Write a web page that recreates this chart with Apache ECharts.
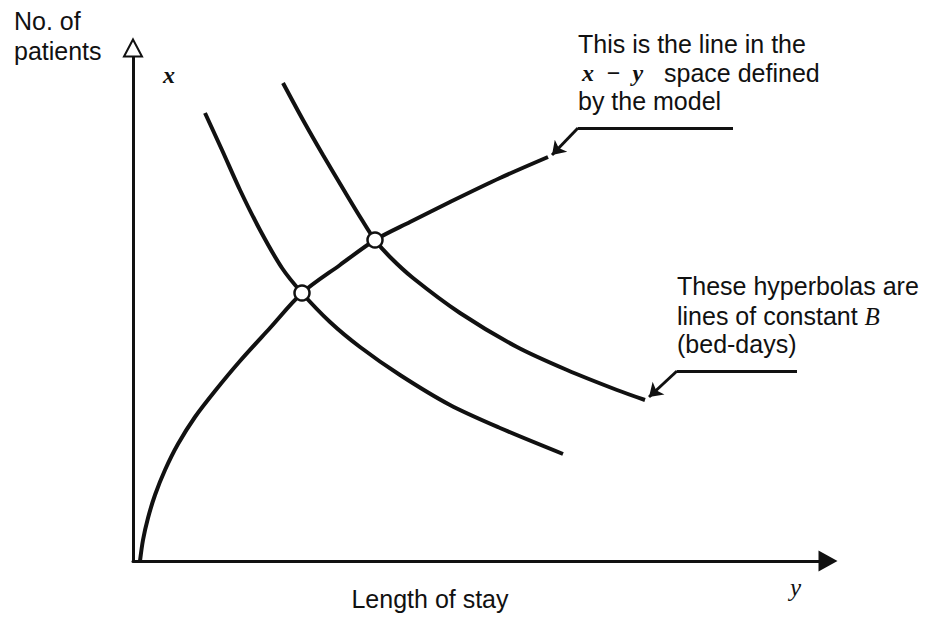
<!DOCTYPE html>
<html>
<head>
<meta charset="utf-8">
<script src="https://cdn.jsdelivr.net/npm/echarts@6/dist/echarts.min.js"></script>
</head>
<body style="margin:0; background:#fff">
<div id="container" style="width:928px; height:620px"></div>
<script>
// points, axis units = pixels from the corner of the axes
var modelLine = [[7,0],[10,21],[15,43],[22,66],[32,91],[45,117],[62,144],[82,170],[107,200],[137,233],[169,268],[207,296],[242,321],[277,339],[317,359],[367,383],[415,404]];
var hyperbolaLow = [[72,448],[89,411],[107,371],[127,331],[149,293],[169,268],[197,239],[227,214],[267,186],[317,156],[367,133],[430,107]];
var hyperbolaHigh = [[150,478],[170,441],[190,406],[212,369],[229,341],[242,321],[257,304],[280,283],[327,248],[384,214],[434,191],[484,171],[512,161]];
var crossings = [[169,268],[242,321]];
// leader lines of the two notes: bar end, bend, arrow tip
var leaderModel = [[600,433],[445,433],[419,406]];
var leaderHyper = [[664,190],[544,190],[516,164]];
var xMax = 695, yMax = 513;

var dom = document.getElementById('container');
var myChart = echarts.init(dom, null, {renderer: 'svg'});

var sans = '25px "Liberation Sans"';
var serifIt = 'italic bold 24px "Liberation Serif"';
var serifThin = 'italic 25px "Liberation Serif"';

function curve(data) {
    return {
        type: 'line',
        data: data,
        smooth: 0.3,
        showSymbol: false,
        lineStyle: {color: '#111', width: 4},
        z: 3
    };
}

var option = {
    animation: false,
    backgroundColor: '#fff',
    grid: {left: 133, right: 100, top: 48, bottom: 59, outerBoundsMode: 'none'},
    xAxis: {
        type: 'value', min: 0, max: xMax,
        axisLine: {lineStyle: {color: '#111', width: 3}, symbol: ['none', 'triangle'], symbolSize: [21, 19]},
        axisTick: {show: false}, axisLabel: {show: false}, splitLine: {show: false}
    },
    yAxis: {
        type: 'value', min: 0, max: yMax,
        axisLine: {show: true, lineStyle: {color: '#111', width: 3}, symbol: ['none', 'emptyTriangle'], symbolSize: [18, 17]},
        axisTick: {show: false}, axisLabel: {show: false}, splitLine: {show: false}
    },
    series: [
        curve(modelLine),
        curve(hyperbolaLow),
        curve(hyperbolaHigh),
        {
            type: 'scatter',
            data: crossings,
            symbol: 'circle',
            symbolSize: 15,
            itemStyle: {color: '#fff', borderColor: '#111', borderWidth: 2.5, opacity: 1},
            z: 5
        },
        {
            type: 'lines',
            coordinateSystem: 'cartesian2d',
            data: [{coords: [leaderModel[0], leaderModel[1]]}, {coords: [leaderHyper[0], leaderHyper[1]]}],
            symbol: 'none',
            lineStyle: {color: '#111', width: 3, opacity: 1}
        },
        {
            type: 'lines',
            coordinateSystem: 'cartesian2d',
            data: [{coords: [leaderModel[1], leaderModel[2]]}, {coords: [leaderHyper[1], leaderHyper[2]]}],
            symbol: ['none', 'arrow'],
            symbolSize: 13,
            lineStyle: {color: '#111', width: 3, opacity: 1}
        }
    ],
    graphic: [
        {type: 'text', x: 14, y: 21, style: {text: 'No. of', font: sans, fill: '#111', verticalAlign: 'middle'}},
        {type: 'text', x: 14, y: 51, style: {text: 'patients', font: sans, fill: '#111', verticalAlign: 'middle'}},
        {type: 'text', x: 163, y: 75, style: {text: 'x', font: serifIt, fill: '#111', verticalAlign: 'middle'}},
        {type: 'text', x: 578, y: 44, style: {text: 'This is the line in the', font: sans, fill: '#111', verticalAlign: 'middle'}},
        {type: 'text', x: 582, y: 73, style: {
            text: '{m|x  −  y}   space defined', font: sans, fill: '#111', verticalAlign: 'middle',
            rich: {m: {font: serifIt, fill: '#111'}}
        }},
        {type: 'text', x: 578, y: 101, style: {text: 'by the model', font: sans, fill: '#111', verticalAlign: 'middle'}},
        {type: 'text', x: 677, y: 286, style: {text: 'These hyperbolas are', font: sans, fill: '#111', verticalAlign: 'middle'}},
        {type: 'text', x: 677, y: 316, style: {
            text: 'lines of constant {m|B}', font: sans, fill: '#111', verticalAlign: 'middle',
            rich: {m: {font: serifThin, fill: '#111'}}
        }},
        {type: 'text', x: 677, y: 344, style: {text: '(bed-days)', font: sans, fill: '#111', verticalAlign: 'middle'}},
        {type: 'text', x: 430, y: 599, style: {text: 'Length of stay', font: sans, fill: '#111', align: 'center', verticalAlign: 'middle'}},
        {type: 'text', x: 790, y: 587, style: {text: 'y', font: serifThin, fill: '#111', verticalAlign: 'middle'}}
    ]
};

myChart.setOption(option);
</script>
</body>
</html>
